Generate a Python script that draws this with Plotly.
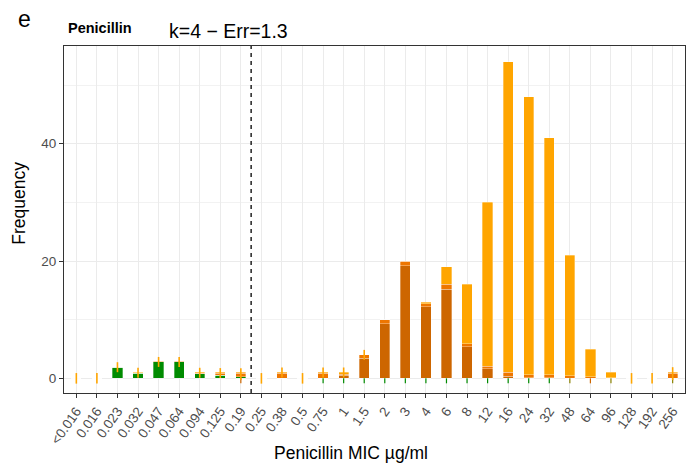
import plotly.graph_objects as go

categories = ["<0.016", "0.016", "0.023", "0.032", "0.047", "0.064", "0.094", "0.125", "0.19",
              "0.25", "0.38", "0.5", "0.75", "1", "1.5", "2", "3", "4", "6", "8", "12", "16",
              "24", "32", "48", "64", "96", "128", "192", "256"]

green_vals = [0, 0, 1.85, 0.9, 2.85, 2.85, 0.8, 0.5, 0.3, 0, 0, 0, 0, 0, 0, 0, 0, 0, 0, 0,
              0, 0, 0, 0, 0, 0, 0, 0, 0, 0]
dark_vals = [0, 0, 0, 0, 0, 0, 0, 0, 0, 0, 0, 0, 0, 0.5, 3.4, 9.3, 19.2, 12.2, 15.2, 5.35,
             1.6, 0.35, 0.1, 0.1, 0.05, 0, 0, 0, 0, 0]
mid_vals = [0, 0, 0.05, 0.05, 0.1, 0.1, 0.1, 0.35, 0.6, 0, 0.85, 0, 0.85, 0.2, 0.6, 0.7, 0.8,
            0.5, 0.8, 0.55, 0.5, 0.65, 0.5, 0.5, 0.4, 0.3, 0.1, 0, 0, 0.85]
light_vals = [0, 0, 0.1, 0.05, 0.05, 0.05, 0.1, 0.15, 0.1, 0, 0.15, 0, 0.15, 0.3, 0, 0, 0,
              0.3, 3.0, 10.1, 27.9, 53.0, 47.4, 40.4, 20.55, 4.7, 0.9, 0, 0, 0.15]

# upper (orange) error segments
err_cats = ["<0.016", "0.016", "0.023", "0.032", "0.047", "0.064", "0.094", "0.125", "0.19",
            "0.25", "0.38", "0.5", "0.75", "1", "1.5", "128", "192", "256"]
err_center = [0, 0, 1.9, 0.95, 2.8, 2.8, 0.95, 0.9, 0.7, 0, 1.0, 0, 1.0, 1.0, 4.0, 0, 0, 0.8]
err_half = [0.9, 0.9, 0.85, 0.85, 0.85, 0.85, 0.85, 0.85, 1.0, 0.9, 0.85, 0.9, 0.85, 0.85,
            0.85, 0.9, 0.9, 1.1]

# lower segments below zero
green_low_cats = ["0.75", "1", "1.5", "2", "3", "4", "6", "8", "12", "16", "24", "32"]
olive_low_cats = ["48", "96", "256"]
darkor_low_cats = ["0.19", "64"]
low_len = 0.85

cutoff_position = 8.5

GREEN = "#008B00"
DARK = "#CD6600"
MID = "#EE7600"
LIGHT = "#FFA500"

fig = go.Figure()
outline = dict(color="rgba(255,255,255,0.4)", width=0.8)
for vals, col in [(green_vals, GREEN), (dark_vals, DARK), (mid_vals, MID), (light_vals, LIGHT)]:
    fig.add_trace(go.Bar(x=categories, y=vals, marker=dict(color=col, line=outline),
                         width=0.5, showlegend=False, hoverinfo="skip"))

def low_trace(cats, col):
    return go.Scatter(x=cats, y=[0] * len(cats), mode="markers",
                      marker=dict(size=1, opacity=0),
                      error_y=dict(type="data", symmetric=False, array=[0] * len(cats),
                                   arrayminus=[low_len] * len(cats), width=0,
                                   color=col, thickness=1.2),
                      showlegend=False, hoverinfo="skip")

fig.add_trace(low_trace(green_low_cats, GREEN))
fig.add_trace(low_trace(olive_low_cats, "#8A8200"))
fig.add_trace(low_trace(darkor_low_cats, DARK))

fig.add_trace(go.Scatter(x=err_cats, y=err_center, mode="markers",
                         marker=dict(size=1, opacity=0),
                         error_y=dict(type="data", array=err_half, width=0,
                                      color=LIGHT, thickness=1.6),
                         showlegend=False, hoverinfo="skip"))

fig.add_shape(type="line", xref="x", yref="paper", x0=cutoff_position, x1=cutoff_position,
              y0=0, y1=1, line=dict(color="black", width=1.3, dash="4px,4px"))

FONT = "Liberation Sans, Arial, sans-serif"
W, H = 694, 472
SL, SR, ST, SB = 64.3, 685, 46, 393   # plot area in pixels
L, T, R, B = SL, ST, W - SR, H - SB
pw, ph = SR - SL, SB - ST

def px(xs):
    return (xs - SL) / pw

def py(ys):
    return (SB - ys) / ph

fig.update_layout(
    width=W, height=H, barmode="stack",
    margin=dict(l=L, r=R, t=T, b=B, autoexpand=False),
    paper_bgcolor="white", plot_bgcolor="white",
    font=dict(family=FONT, color="black"),
)
fig.update_xaxes(
    type="category", categoryorder="array", categoryarray=categories,
    range=[-0.6, len(categories) - 0.4],
    showgrid=True, gridcolor="#EBEBEB", gridwidth=1.1,
    showline=True, linecolor="#333333", linewidth=1.1, mirror=True,
    ticks="outside", ticklen=4, tickcolor="#333333", tickwidth=1,
    tickangle=-55, tickfont=dict(size=13.5, color="#4D4D4D", family=FONT),
    zeroline=False, automargin=False,
)
fig.update_yaxes(
    range=[-2.5, 56.66], tickvals=[0, 20, 40],
    showgrid=True, gridcolor="#EBEBEB", gridwidth=1.1,
    minor=dict(tickvals=[10, 30, 50], showgrid=True, gridcolor="#F2F2F2", gridwidth=0.6),
    showline=True, linecolor="#333333", linewidth=1.1, mirror=True,
    ticks="outside", ticklen=4, tickcolor="#333333", tickwidth=1,
    tickfont=dict(size=13.5, color="#4D4D4D", family=FONT),
    zeroline=False, automargin=False,
)

fig.add_annotation(text="e", xref="paper", yref="paper", x=px(16), y=py(19),
                   xanchor="left", yanchor="middle", showarrow=False,
                   font=dict(size=23, family=FONT, color="black"))
fig.add_annotation(text="<b>Penicillin</b>", xref="paper", yref="paper", x=px(66), y=py(28),
                   xanchor="left", yanchor="middle", showarrow=False,
                   font=dict(size=14.5, family=FONT, color="black"))
fig.add_annotation(text="k=4 − Err=1.3", xref="paper", yref="paper", x=px(167), y=py(31),
                   xanchor="left", yanchor="middle", showarrow=False,
                   font=dict(size=19.5, family=FONT, color="black"))
fig.add_annotation(text="Frequency", xref="paper", yref="paper", x=px(19), y=py(203),
                   xanchor="center", yanchor="middle", textangle=-90, showarrow=False,
                   font=dict(size=17.5, family=FONT, color="black"))
fig.add_annotation(text="Penicillin MIC µg/ml", xref="paper", yref="paper", x=px(351), y=py(453),
                   xanchor="center", yanchor="middle", showarrow=False,
                   font=dict(size=17.5, family=FONT, color="black"))

fig.write_html("out.html", config={"displayModeBar": False},
               post_script="document.body.style.margin='0px';document.body.style.overflow='hidden';")
